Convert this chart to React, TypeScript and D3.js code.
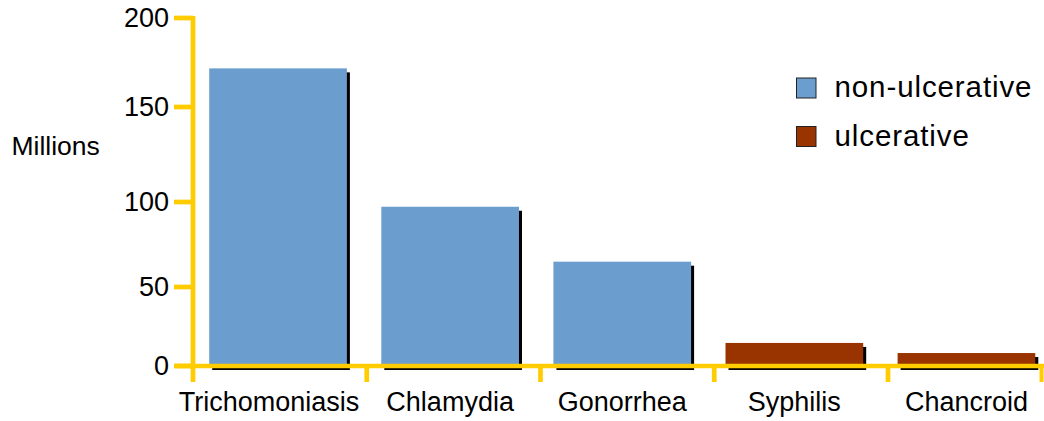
import * as d3 from "d3";

const categories = ["Trichomoniasis", "Chlamydia", "Gonorrhea", "Syphilis", "Chancroid"];
const cases = [171.7, 97.2, 64.9, 14.6, 8.2];
const caseType = ["non-ulcerative", "non-ulcerative", "non-ulcerative", "ulcerative", "ulcerative"];
const seriesNames = ["non-ulcerative", "ulcerative"];
const seriesColors = ["#6B9ECF", "#993300"];
const yTicks = [0, 50, 100, 150, 200];
const yLabel = "Millions";

const W = 1044;
const H = 421;
const AXIS = "#FFCC00";
const FONT = "'Liberation Sans', Arial, sans-serif";

export default function App() {
  // the original axis is hand-spaced, so the scale is piecewise between the ticks
  const y = d3.scaleLinear().domain(yTicks).range([366, 287, 202, 107, 18]);
  const x = d3
    .scaleBand<string>()
    .domain(categories)
    .range([192, 1052.5])
    .paddingInner(0.2)
    .paddingOuter(0.1);
  const sep = d3.scaleBand<string>().domain(categories).range([193, 1061.75]);
  const color = d3.scaleOrdinal<string, string>().domain(seriesNames).range(seriesColors);
  const x0 = 193;
  const xEnd = 1043;
  const y0 = y(0);

  return (
    <svg
      width={W}
      height={H}
      style={{ position: "absolute", left: 0, top: 0, background: "#fff" }}
      fontFamily={FONT}
    >
      {/* bar shadows */}
      {categories.map((c, i) => (
        <rect
          key={"s" + c}
          x={x(c)! + 3}
          y={y(cases[i]) + 4}
          width={x.bandwidth()}
          height={y0 - y(cases[i])}
          fill="#000"
        />
      ))}
      {categories.map((c, i) => (
        <rect
          key={"b" + c}
          x={x(c)!}
          y={y(cases[i])}
          width={x.bandwidth()}
          height={y0 - y(cases[i])}
          fill={color(caseType[i])}
        />
      ))}

      {/* y axis */}
      <line x1={x0} x2={x0} y1={y(200) - 2} y2={y0 + 16} stroke={AXIS} strokeWidth={4.7} />
      {yTicks.map((t) => (
        <g key={t}>
          <line x1={x0 - 19} x2={x0} y1={y(t)} y2={y(t)} stroke={AXIS} strokeWidth={4.7} />
          <text x={169} y={y(t) + 9} textAnchor="end" fontSize={27} fill="#000">
            {t}
          </text>
        </g>
      ))}

      {/* x axis */}
      <line x1={x0 - 18} x2={xEnd + 1} y1={y0} y2={y0} stroke={AXIS} strokeWidth={4.7} />
      {categories.slice(1).map((c) => (
        <line key={"t" + c} x1={sep(c)!} x2={sep(c)!} y1={y0} y2={y0 + 16} stroke={AXIS} strokeWidth={4.7} />
      ))}
      <line x1={xEnd - 1.5} x2={xEnd - 1.5} y1={y0} y2={y0 + 16} stroke={AXIS} strokeWidth={4} />
      {categories.map((c, i) => (
        <text
          key={"l" + c}
          x={x(c)! + x.bandwidth() / 2 - (i === 0 ? 9 : 0)}
          y={411}
          textAnchor="middle"
          fontSize={27}
          fill="#000"
        >
          {c}
        </text>
      ))}

      <text x={11.5} y={155} fontSize={26.5} fill="#000">
        {yLabel}
      </text>

      {/* legend */}
      {seriesNames.map((s, i) => (
        <g key={s} transform={`translate(796,${77.5 + i * 48.5})`}>
          <rect x={0.5} y={0.5} width={19.5} height={20} fill={color(s)} stroke="#222" strokeWidth={1} />
          <text x={38.5} y={19.5} fontSize={29.5} letterSpacing={0.9} fill="#000">
            {s}
          </text>
        </g>
      ))}
    </svg>
  );
}
